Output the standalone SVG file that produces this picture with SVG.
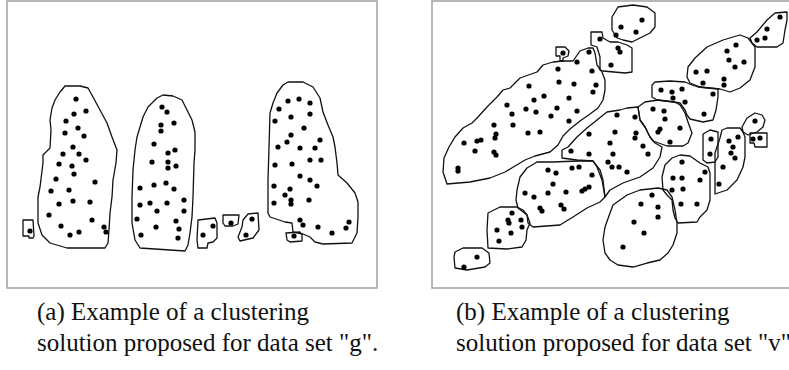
<svg xmlns="http://www.w3.org/2000/svg" width="789" height="370" viewBox="0 0 789 370">
<style>
  .frame { fill: #fff; stroke: #a0a0a0; stroke-width: 1.5; }
  .hull { fill: none; stroke: #111; stroke-width: 1.3; stroke-linejoin: round; }
  .pt { fill: #000; }
  .cap { font-family: "Liberation Serif", "Times New Roman", serif; font-size: 25px; fill: #111; }
</style>
<rect width="789" height="370" fill="#fff"/>

<!-- Panel (a): data set g -->
<g id="panel-a">
  <rect class="frame" x="7" y="1" width="370" height="287"/>
  <g id="a-c1">
    <polygon class="hull" points="65,86 80,86 88,88 93,97 100,110 107,123 112,137 117,150 116,163 113,180 112,197 110,213 109,230 108,243 105,248 67,248 50,243 42,235 38,223 38,197 40,187 43,163 43,155 50,148 51,130 50,120 52,108 55,100 60,92"/>
    <g class="pt">
      <circle cx="76" cy="99" r="2.6"/><circle cx="74" cy="114" r="2.6"/><circle cx="86" cy="111" r="2.6"/><circle cx="66" cy="121" r="2.6"/>
      <circle cx="65" cy="133" r="2.6"/><circle cx="78" cy="128" r="2.6"/><circle cx="84" cy="136" r="2.6"/><circle cx="73" cy="147" r="2.6"/>
      <circle cx="63" cy="154" r="2.6"/><circle cx="79" cy="154" r="2.6"/><circle cx="86" cy="160" r="2.6"/><circle cx="59" cy="164" r="2.6"/>
      <circle cx="72" cy="166" r="2.6"/><circle cx="74" cy="174" r="2.6"/><circle cx="56" cy="179" r="2.6"/><circle cx="95" cy="182" r="2.6"/>
      <circle cx="51" cy="191" r="2.6"/><circle cx="69" cy="190" r="2.6"/><circle cx="59" cy="204" r="2.6"/><circle cx="73" cy="201" r="2.6"/>
      <circle cx="90" cy="202" r="2.6"/><circle cx="49" cy="215" r="2.6"/><circle cx="92" cy="220" r="2.6"/><circle cx="61" cy="226" r="2.6"/>
      <circle cx="70" cy="235" r="2.6"/><circle cx="79" cy="232" r="2.6"/><circle cx="104" cy="227" r="2.6"/><circle cx="106" cy="232" r="2.6"/>
    </g>
  </g>
  <g id="a-c2">
    <path class="hull" d="M23,220 L33,220 L34,236 L33,238 L29,238 L29,236 L23,236 Z"/>
    <circle class="pt" cx="30" cy="231" r="2.6"/>
  </g>
  <g id="a-c3">
    <polygon class="hull" points="163,95 173,96 182,100 187,110 192,120 195,132 195,150 194,163 193,197 192,217 190,233 188,245 185,251 140,248 135,240 132,223 132,197 133,170 135,150 137,137 143,117 148,107 157,98"/>
    <g class="pt">
      <circle cx="162" cy="107" r="2.6"/><circle cx="167" cy="112" r="2.6"/><circle cx="174" cy="123" r="2.6"/><circle cx="161" cy="125" r="2.6"/>
      <circle cx="161" cy="131" r="2.6"/><circle cx="154" cy="144" r="2.6"/><circle cx="175" cy="150" r="2.6"/><circle cx="168" cy="153" r="2.6"/>
      <circle cx="152" cy="162" r="2.6"/><circle cx="168" cy="162" r="2.6"/><circle cx="168" cy="168" r="2.6"/><circle cx="176" cy="166" r="2.6"/>
      <circle cx="166" cy="183" r="2.6"/><circle cx="154" cy="185" r="2.6"/><circle cx="140" cy="188" r="2.6"/><circle cx="174" cy="189" r="2.6"/>
      <circle cx="184" cy="200" r="2.6"/><circle cx="167" cy="203" r="2.6"/><circle cx="150" cy="203" r="2.6"/><circle cx="140" cy="205" r="2.6"/>
      <circle cx="157" cy="211" r="2.6"/><circle cx="184" cy="211" r="2.6"/><circle cx="137" cy="219" r="2.6"/><circle cx="176" cy="221" r="2.6"/>
      <circle cx="179" cy="229" r="2.6"/><circle cx="156" cy="227" r="2.6"/><circle cx="141" cy="235" r="2.6"/><circle cx="178" cy="238" r="2.6"/>
    </g>
  </g>
  <g id="a-c4">
    <polygon class="hull" points="198,220 215,218 217,223 217,238 213,242 208,243 207,248 198,248 197,240"/>
    <circle class="pt" cx="213" cy="226" r="2.6"/><circle class="pt" cx="203" cy="235" r="2.6"/>
  </g>
  <g id="a-c5">
    <polygon class="hull" points="223,215 239,215 238,224 233,226 225,226 223,223"/>
    <circle class="pt" cx="231" cy="223" r="2.6"/>
  </g>
  <g id="a-c6">
    <polygon class="hull" points="243,220 248,214 258,213 259,230 253,238 240,241 238,237 242,227"/>
    <circle class="pt" cx="252" cy="219" r="2.6"/><circle class="pt" cx="246" cy="235" r="2.6"/>
  </g>
  <g id="a-c7">
    <polygon class="hull" points="286,233 300,232 302,235 302,241 290,242 287,240"/>
    <circle class="pt" cx="294" cy="236" r="2.6"/>
  </g>
  <g id="a-c8">
    <polygon class="hull" points="288,82 303,82 313,87 320,98 323,112 328,125 333,137 335,147 337,163 338,175 347,183 355,193 358,202 358,217 357,233 352,243 323,244 315,242 310,237 303,234 293,232 292,223 285,222 270,217 268,213 268,180 269,147 270,113 273,103 277,93 283,85"/>
    <g class="pt">
      <circle cx="288" cy="101" r="2.6"/><circle cx="299" cy="99" r="2.6"/><circle cx="310" cy="103" r="2.6"/><circle cx="279" cy="109" r="2.6"/>
      <circle cx="291" cy="117" r="2.6"/><circle cx="310" cy="114" r="2.6"/><circle cx="275" cy="121" r="2.6"/><circle cx="304" cy="128" r="2.6"/>
      <circle cx="291" cy="135" r="2.6"/><circle cx="287" cy="142" r="2.6"/><circle cx="320" cy="140" r="2.6"/><circle cx="278" cy="147" r="2.6"/>
      <circle cx="300" cy="148" r="2.6"/><circle cx="315" cy="148" r="2.6"/><circle cx="310" cy="160" r="2.6"/><circle cx="321" cy="160" r="2.6"/>
      <circle cx="275" cy="165" r="2.6"/><circle cx="292" cy="164" r="2.6"/><circle cx="300" cy="176" r="2.6"/><circle cx="310" cy="180" r="2.6"/>
      <circle cx="290" cy="189" r="2.6"/><circle cx="317" cy="186" r="2.6"/><circle cx="274" cy="186" r="2.6"/><circle cx="285" cy="195" r="2.6"/>
      <circle cx="291" cy="200" r="2.6"/><circle cx="291" cy="204" r="2.6"/><circle cx="309" cy="200" r="2.6"/><circle cx="274" cy="203" r="2.6"/>
      <circle cx="300" cy="220" r="2.6"/><circle cx="303" cy="225" r="2.6"/><circle cx="318" cy="227" r="2.6"/><circle cx="332" cy="233" r="2.6"/>
      <circle cx="346" cy="228" r="2.6"/><circle cx="349" cy="222" r="2.6"/>
    </g>
  </g>
</g>

<!-- Panel (b): data set v -->
<g id="panel-b">
  <rect class="frame" x="432" y="1" width="400" height="287"/>
  <g id="b-c1">
    <polygon class="hull" points="556,47 565,47 569,51 568,56 563,58 563,61 560,61 560,56 556,56"/>
    <circle class="pt" cx="563" cy="53" r="2.6"/>
  </g>
  <g id="b-c2">
    <polygon class="hull" points="563,61 573,61 580,51 588,48 593,48 595,53 597,65 602,72 605,80 605,90 603,100 598,108 590,114 580,121 570,129 563,136 558,145 550,152 535,156 525,160 515,166 505,172 490,178 470,182 447,184 443,172 444,158 449,147 455,137 463,128 472,123 478,117 487,107 497,97 503,90 510,88 520,78 537,72 543,65 553,62"/>
    <g class="pt">
      <circle cx="577" cy="62" r="2.6"/><circle cx="589" cy="52" r="2.6"/><circle cx="558" cy="69" r="2.6"/><circle cx="592" cy="71" r="2.6"/>
      <circle cx="559" cy="82" r="2.6"/><circle cx="574" cy="84" r="2.6"/><circle cx="596" cy="85" r="2.6"/><circle cx="593" cy="92" r="2.6"/>
      <circle cx="529" cy="86" r="2.6"/><circle cx="544" cy="96" r="2.6"/><circle cx="569" cy="98" r="2.6"/><circle cx="534" cy="100" r="2.6"/>
      <circle cx="507" cy="105" r="2.6"/><circle cx="526" cy="109" r="2.6"/><circle cx="536" cy="112" r="2.6"/><circle cx="557" cy="108" r="2.6"/>
      <circle cx="577" cy="111" r="2.6"/><circle cx="512" cy="114" r="2.6"/><circle cx="551" cy="116" r="2.6"/><circle cx="569" cy="121" r="2.6"/>
      <circle cx="494" cy="125" r="2.6"/><circle cx="513" cy="125" r="2.6"/><circle cx="528" cy="133" r="2.6"/><circle cx="540" cy="132" r="2.6"/>
      <circle cx="496" cy="134" r="2.6"/><circle cx="495" cy="138" r="2.6"/><circle cx="481" cy="140" r="2.6"/><circle cx="477" cy="141" r="2.6"/>
      <circle cx="464" cy="143" r="2.6"/><circle cx="475" cy="151" r="2.6"/><circle cx="494" cy="152" r="2.6"/><circle cx="496" cy="155" r="2.6"/>
      <circle cx="458" cy="168" r="2.6"/><circle cx="458" cy="171" r="2.6"/>
    </g>
  </g>
  <g id="b-c3">
    <polygon class="hull" points="612,17 618,7 633,5 647,7 655,13 655,27 650,33 640,38 632,42 623,40 617,38 612,30"/>
    <circle class="pt" cx="642" cy="20" r="2.6"/><circle class="pt" cx="621" cy="27" r="2.6"/><circle class="pt" cx="636" cy="32" r="2.6"/><circle class="pt" cx="616" cy="35" r="2.6"/>
  </g>
  <g id="b-c4">
    <polygon class="hull" points="591,32 602,32 603,38 610,42 618,42 627,45 632,48 632,72 625,73 603,71 600,70 600,57 597,47 591,45"/>
    <circle class="pt" cx="600" cy="39" r="2.6"/><circle class="pt" cx="618" cy="48" r="2.6"/><circle class="pt" cx="620" cy="52" r="2.6"/><circle class="pt" cx="611" cy="65" r="2.6"/>
  </g>
  <g id="b-c5">
    <polygon class="hull" points="750,38 757,32 767,20 775,13 787,12 787,20 785,30 783,43 777,47 757,47 752,43"/>
    <circle class="pt" cx="780" cy="17" r="2.6"/><circle class="pt" cx="767" cy="29" r="2.6"/><circle class="pt" cx="765" cy="38" r="2.6"/><circle class="pt" cx="757" cy="40" r="2.6"/>
  </g>
  <g id="b-c6">
    <polygon class="hull" points="688,67 695,58 707,47 723,40 740,35 748,38 755,47 755,67 750,80 740,88 730,92 720,89 700,87 690,83 687,77"/>
    <g class="pt">
      <circle cx="736" cy="45" r="2.6"/><circle cx="727" cy="51" r="2.6"/><circle cx="729" cy="60" r="2.6"/><circle cx="744" cy="62" r="2.6"/>
      <circle cx="735" cy="67" r="2.6"/><circle cx="696" cy="72" r="2.6"/><circle cx="707" cy="71" r="2.6"/><circle cx="724" cy="79" r="2.6"/>
      <circle cx="724" cy="85" r="2.6"/><circle cx="703" cy="83" r="2.6"/>
    </g>
  </g>
  <g id="b-c7">
    <polygon class="hull" points="652,85 655,82 670,81 685,82 692,85 698,87 718,89 718,97 716,110 713,120 703,122 690,119 687,115 685,110 680,103 673,102 657,100 652,97"/>
    <g class="pt">
      <circle cx="661" cy="90" r="2.6"/><circle cx="672" cy="92" r="2.6"/><circle cx="682" cy="89" r="2.6"/><circle cx="673" cy="98" r="2.6"/>
      <circle cx="685" cy="102" r="2.6"/><circle cx="713" cy="94" r="2.6"/><circle cx="704" cy="114" r="2.6"/>
    </g>
  </g>
  <g id="b-c8">
    <polygon class="hull" points="638,107 645,102 658,100 675,102 680,105 685,113 688,122 692,133 688,143 683,146 667,146 653,141 650,137 645,127 640,120"/>
    <g class="pt">
      <circle cx="653" cy="109" r="2.6"/><circle cx="664" cy="111" r="2.6"/><circle cx="665" cy="119" r="2.6"/><circle cx="680" cy="128" r="2.6"/>
      <circle cx="660" cy="129" r="2.6"/><circle cx="658" cy="132" r="2.6"/><circle cx="670" cy="142" r="2.6"/>
    </g>
  </g>
  <g id="b-c9">
    <polygon class="hull" points="607,112 620,110 627,108 638,107 640,120 645,127 650,137 655,143 662,147 660,157 653,168 640,177 623,183 610,190 605,197 602,180 597,167 593,161 577,160 562,158 562,150 568,147 577,137 587,128 597,120"/>
    <g class="pt">
      <circle cx="617" cy="115" r="2.6"/><circle cx="635" cy="117" r="2.6"/><circle cx="615" cy="132" r="2.6"/><circle cx="589" cy="134" r="2.6"/>
      <circle cx="636" cy="133" r="2.6"/><circle cx="635" cy="138" r="2.6"/><circle cx="610" cy="143" r="2.6"/><circle cx="643" cy="146" r="2.6"/>
      <circle cx="571" cy="151" r="2.6"/><circle cx="589" cy="154" r="2.6"/><circle cx="613" cy="154" r="2.6"/><circle cx="648" cy="154" r="2.6"/>
      <circle cx="608" cy="162" r="2.6"/><circle cx="612" cy="167" r="2.6"/><circle cx="619" cy="167" r="2.6"/><circle cx="627" cy="172" r="2.6"/>
    </g>
  </g>
  <g id="b-c10">
    <polygon class="hull" points="517,190 520,177 527,168 537,162 553,162 577,161 593,161 600,170 603,180 605,197 600,202 587,208 573,217 560,225 533,227 528,223 527,215 518,208 516,200"/>
    <g class="pt">
      <circle cx="548" cy="170" r="2.6"/><circle cx="556" cy="173" r="2.6"/><circle cx="572" cy="168" r="2.6"/><circle cx="579" cy="167" r="2.6"/>
      <circle cx="592" cy="175" r="2.6"/><circle cx="553" cy="184" r="2.6"/><circle cx="525" cy="193" r="2.6"/><circle cx="534" cy="197" r="2.6"/>
      <circle cx="548" cy="193" r="2.6"/><circle cx="566" cy="192" r="2.6"/><circle cx="582" cy="191" r="2.6"/><circle cx="585" cy="189" r="2.6"/>
      <circle cx="589" cy="187" r="2.6"/><circle cx="540" cy="208" r="2.6"/><circle cx="542" cy="211" r="2.6"/><circle cx="561" cy="205" r="2.6"/>
      <circle cx="564" cy="209" r="2.6"/>
    </g>
  </g>
  <g id="b-c11">
    <polygon class="hull" points="488,213 500,207 517,207 523,210 527,215 530,223 527,230 526,240 522,247 507,249 488,248 487,230"/>
    <g class="pt">
      <circle cx="512" cy="213" r="2.6"/><circle cx="508" cy="220" r="2.6"/><circle cx="509" cy="223" r="2.6"/><circle cx="521" cy="220" r="2.6"/>
      <circle cx="522" cy="227" r="2.6"/><circle cx="497" cy="230" r="2.6"/><circle cx="511" cy="233" r="2.6"/><circle cx="499" cy="241" r="2.6"/>
    </g>
  </g>
  <g id="b-c12">
    <polygon class="hull" points="455,252 463,248 482,248 489,253 490,263 485,267 467,270 455,268 454,257"/>
    <circle class="pt" cx="477" cy="257" r="2.6"/><circle class="pt" cx="464" cy="267" r="2.6"/>
  </g>
  <g id="b-c13">
    <polygon class="hull" points="613,205 627,195 640,190 658,188 667,190 672,197 675,210 677,223 677,233 673,245 668,253 660,260 647,263 633,267 618,265 610,260 605,253 603,240 605,227 610,213"/>
    <g class="pt">
      <circle cx="652" cy="195" r="2.6"/><circle cx="641" cy="204" r="2.6"/><circle cx="658" cy="207" r="2.6"/><circle cx="658" cy="217" r="2.6"/>
      <circle cx="634" cy="222" r="2.6"/><circle cx="644" cy="233" r="2.6"/><circle cx="623" cy="247" r="2.6"/>
    </g>
  </g>
  <g id="b-c14">
    <polygon class="hull" points="662,177 665,165 672,158 680,155 690,156 700,163 708,167 710,173 710,200 707,210 700,217 697,222 678,223 675,218 673,210 672,200 667,195 663,190"/>
    <g class="pt">
      <circle cx="682" cy="162" r="2.6"/><circle cx="705" cy="172" r="2.6"/><circle cx="673" cy="178" r="2.6"/><circle cx="682" cy="178" r="2.6"/>
      <circle cx="700" cy="180" r="2.6"/><circle cx="672" cy="190" r="2.6"/><circle cx="683" cy="189" r="2.6"/><circle cx="681" cy="204" r="2.6"/>
      <circle cx="697" cy="204" r="2.6"/>
    </g>
  </g>
  <g id="b-c15">
    <polygon class="hull" points="703,137 703,134 710,130 718,132 718,157 715,162 707,163 703,160"/>
    <circle class="pt" cx="711" cy="139" r="2.6"/><circle class="pt" cx="710" cy="154" r="2.6"/>
  </g>
  <g id="b-c16">
    <polygon class="hull" points="715,170 715,153 720,138 722,130 727,128 740,128 743,132 745,137 745,157 743,167 737,180 727,190 715,194"/>
    <g class="pt">
      <circle cx="729" cy="141" r="2.6"/><circle cx="738" cy="137" r="2.6"/><circle cx="733" cy="147" r="2.6"/><circle cx="731" cy="153" r="2.6"/>
      <circle cx="735" cy="158" r="2.6"/><circle cx="723" cy="167" r="2.6"/><circle cx="719" cy="184" r="2.6"/>
    </g>
  </g>
  <g id="b-c17">
    <polygon class="hull" points="742,127 747,118 755,113 762,115 765,120 763,127 757,132 748,135 743,132"/>
    <circle class="pt" cx="755" cy="121" r="2.6"/>
  </g>
  <g id="b-c18">
    <polygon class="hull" points="750,133 767,133 767,147 755,147 754,143 750,143"/>
    <circle class="pt" cx="753" cy="139" r="2.6"/><circle class="pt" cx="760" cy="138" r="2.6"/>
  </g>
</g>

<!-- Captions -->
<g id="captions">
  <text class="cap" x="37" y="320">(a) Example of a clustering</text>
  <text class="cap" x="37" y="351">solution proposed for data set "g".</text>
  <text class="cap" x="456" y="320">(b) Example of a clustering</text>
  <text class="cap" x="456" y="351">solution proposed for data set "v".</text>
</g>
</svg>
